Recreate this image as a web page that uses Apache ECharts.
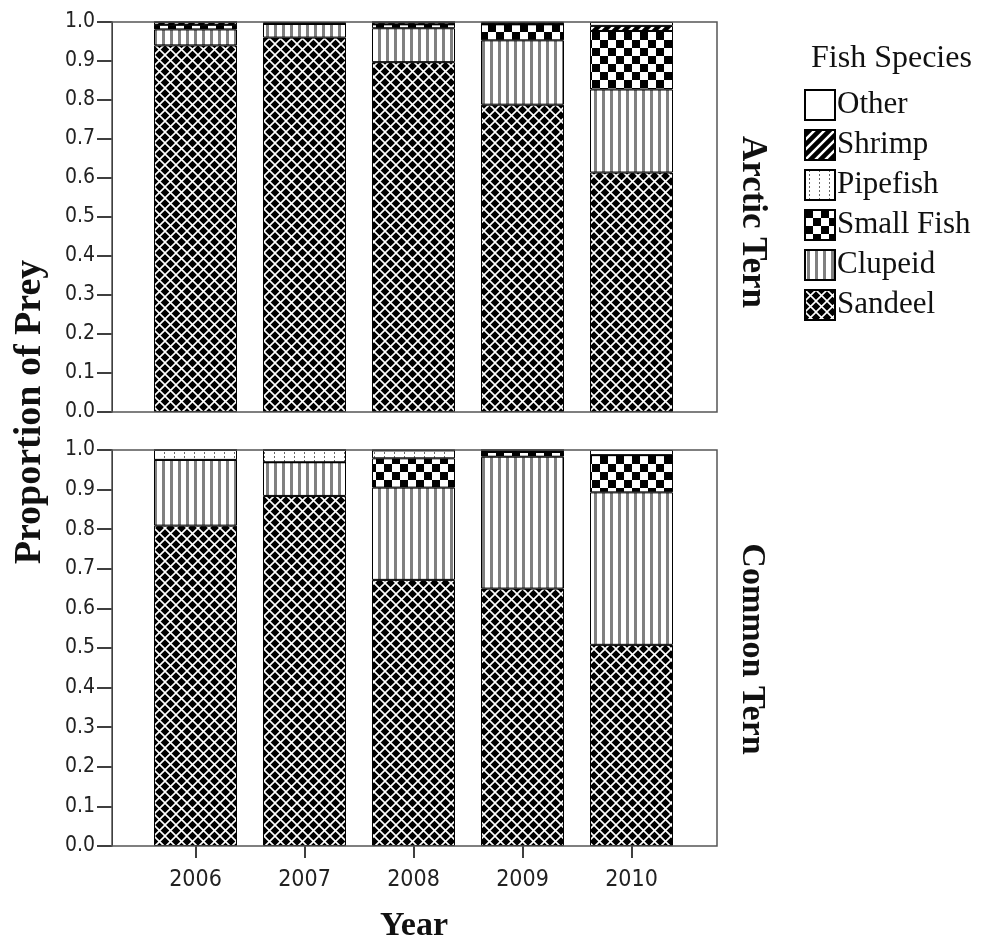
<!DOCTYPE html>
<html>
<head>
<meta charset="utf-8">
<script src="https://cdn.jsdelivr.net/npm/echarts@6.0.0/dist/echarts.min.js"></script>
<style>
html,body{margin:0;padding:0;background:#fff;}
#chart{width:981px;height:943px;}
</style>
</head>
<body>
<div id="chart"></div>
<script>
// ---------- DATA ----------
var years = ['2006', '2007', '2008', '2009', '2010'];
var species = ['Sandeel', 'Clupeid', 'Small Fish', 'Pipefish', 'Shrimp', 'Other'];
var legendOrder = ['Other', 'Shrimp', 'Pipefish', 'Small Fish', 'Clupeid', 'Sandeel'];
var yTicks = [0, 0.1, 0.2, 0.3, 0.4, 0.5, 0.6, 0.7, 0.8, 0.9, 1.0];

// Arctic Tern (top panel)
var arcticSandeel   = [0.940, 0.960, 0.897, 0.788, 0.614];
var arcticClupeid   = [0.041, 0.035, 0.087, 0.165, 0.213];
var arcticSmallFish = [0.012, 0.000, 0.010, 0.041, 0.150];
var arcticPipefish  = [0.000, 0.000, 0.000, 0.000, 0.000];
var arcticShrimp    = [0.007, 0.000, 0.006, 0.004, 0.013];
var arcticOther     = [0.000, 0.005, 0.000, 0.002, 0.010];

// Common Tern (bottom panel)
var commonSandeel   = [0.809, 0.884, 0.672, 0.650, 0.508];
var commonClupeid   = [0.166, 0.085, 0.233, 0.333, 0.385];
var commonSmallFish = [0.000, 0.000, 0.074, 0.012, 0.094];
var commonPipefish  = [0.025, 0.031, 0.020, 0.000, 0.000];
var commonShrimp    = [0.000, 0.000, 0.000, 0.005, 0.000];
var commonOther     = [0.000, 0.000, 0.001, 0.000, 0.013];

var arcticData = [arcticSandeel, arcticClupeid, arcticSmallFish, arcticPipefish, arcticShrimp, arcticOther];
var commonData = [commonSandeel, commonClupeid, commonSmallFish, commonPipefish, commonShrimp, commonOther];

// ---------- PATTERNS ----------
function tile(w, h, draw) {
  var c = document.createElement('canvas');
  c.width = w; c.height = h;
  var ctx = c.getContext('2d');
  draw(ctx, w, h);
  return { image: c, repeat: 'repeat' };
}
var patterns = {
  'Sandeel': tile(11, 11, function (ctx, w, h) {
    ctx.fillStyle = '#000'; ctx.fillRect(0, 0, w, h);
    ctx.strokeStyle = '#fff'; ctx.lineWidth = 1.6;
    ctx.beginPath();
    ctx.moveTo(0, 0); ctx.lineTo(w, h);
    ctx.moveTo(w, 0); ctx.lineTo(0, h);
    ctx.stroke();
  }),
  'Clupeid': tile(8, 8, function (ctx, w, h) {
    ctx.fillStyle = '#fff'; ctx.fillRect(0, 0, w, h);
    ctx.fillStyle = '#808080'; ctx.fillRect(2, 0, 3, h);
  }),
  'Small Fish': tile(16, 16, function (ctx, w, h) {
    ctx.fillStyle = '#fff'; ctx.fillRect(0, 0, w, h);
    ctx.fillStyle = '#000';
    ctx.fillRect(0, 0, 8, 8); ctx.fillRect(8, 8, 8, 8);
  }),
  'Pipefish': tile(10, 4, function (ctx, w, h) {
    ctx.fillStyle = '#fff'; ctx.fillRect(0, 0, w, h);
    ctx.fillStyle = '#666'; ctx.fillRect(4, 0, 1, 2);
  }),
  'Shrimp': tile(10, 10, function (ctx, w, h) {
    ctx.fillStyle = '#000'; ctx.fillRect(0, 0, w, h);
    ctx.strokeStyle = '#fff'; ctx.lineWidth = 2.5;
    ctx.beginPath();
    ctx.moveTo(-1, h + 1); ctx.lineTo(w + 1, -1);
    ctx.moveTo(-6, 6); ctx.lineTo(6, -6);
    ctx.moveTo(4, 16); ctx.lineTo(16, 4);
    ctx.stroke();
  }),
  'Other': '#ffffff'
};

// ---------- SERIES ----------
var series = [];
function addPanel(dataSet, idx) {
  species.forEach(function (name, i) {
    series.push({
      name: name,
      type: 'bar',
      stack: 'panel' + idx,
      xAxisIndex: idx,
      yAxisIndex: idx,
      barWidth: 83,
      data: dataSet[i],
      itemStyle: { color: patterns[name], borderColor: '#000', borderWidth: 1 },
      emphasis: { disabled: true },
      animation: false
    });
  });
}
addPanel(arcticData, 0);
addPanel(commonData, 1);

var tickFont = '"DejaVu Sans Condensed", "DejaVu Sans", sans-serif';
var yAxisBase = {
  type: 'value', min: 0, max: 1, interval: 0.1, offset: 29,
  axisLine: { show: true, lineStyle: { color: '#000', width: 1 } },
  axisTick: { show: true, length: 15, lineStyle: { color: '#000', width: 1.5 } },
  axisLabel: {
    margin: 17, fontFamily: tickFont, fontSize: 21, color: '#222',
    formatter: function (v) { return v.toFixed(1); }
  },
  splitLine: { show: false }
};

var serifFont = '"Liberation Serif", "Times New Roman", serif';
var chart = echarts.init(document.getElementById('chart'), null, { renderer: 'canvas' });
chart.setOption({
  backgroundColor: '#fff',
  animation: false,
  title: {
    text: 'Fish Species', left: 806, top: 38,
    textStyle: { fontFamily: serifFont, fontWeight: 'normal', fontSize: 32, color: '#111' }
  },
  legend: {
    data: legendOrder, orient: 'vertical', left: 804, top: 89,
    itemWidth: 30, itemHeight: 30, itemGap: 8, icon: 'rect', padding: 0,
    selectedMode: false,
    textStyle: { fontFamily: serifFont, fontSize: 31, color: '#111', padding: [0, 0, 0, -3] }
  },
  grid: [
    { left: 141, width: 545, top: 22, height: 390 },
    { left: 141, width: 545, top: 450, height: 396 }
  ],
  xAxis: [
    { type: 'category', gridIndex: 0, data: years, axisLine: { show: false },
      axisTick: { show: false }, axisLabel: { show: false } },
    { type: 'category', gridIndex: 1, data: years, axisLine: { show: false },
      axisTick: { show: true, alignWithLabel: true, length: 12, lineStyle: { color: '#000', width: 1.5 } },
      axisLabel: { margin: 23, fontFamily: tickFont, fontSize: 23, color: '#222' } }
  ],
  yAxis: [
    Object.assign({ gridIndex: 0 }, yAxisBase),
    Object.assign({ gridIndex: 1 }, yAxisBase)
  ],
  series: series,
  graphic: [
    { type: 'rect', z: 100, silent: true, shape: { x: 112, y: 22, width: 605, height: 390 },
      style: { fill: null, stroke: '#555', lineWidth: 1.5 } },
    { type: 'rect', z: 100, silent: true, shape: { x: 112, y: 450, width: 605, height: 396 },
      style: { fill: null, stroke: '#555', lineWidth: 1.5 } },
    { type: 'text', x: 30, y: 412, rotation: Math.PI / 2,
      style: { text: 'Proportion of Prey', font: 'bold 38px "Liberation Serif", serif', fill: '#111', align: 'center', verticalAlign: 'middle' } },
    { type: 'text', x: 752, y: 222, rotation: -Math.PI / 2,
      style: { text: 'Arctic Tern', font: 'bold 35px "Liberation Serif", serif', fill: '#111', align: 'center', verticalAlign: 'middle' } },
    { type: 'text', x: 752, y: 649, rotation: -Math.PI / 2,
      style: { text: 'Common Tern', font: 'bold 34px "Liberation Serif", serif', fill: '#111', align: 'center', verticalAlign: 'middle' } },
    { type: 'text', x: 414, y: 926,
      style: { text: 'Year', font: 'bold 34px "Liberation Serif", serif', fill: '#111', align: 'center', verticalAlign: 'middle' } }
  ]
});
</script>
</body>
</html>
